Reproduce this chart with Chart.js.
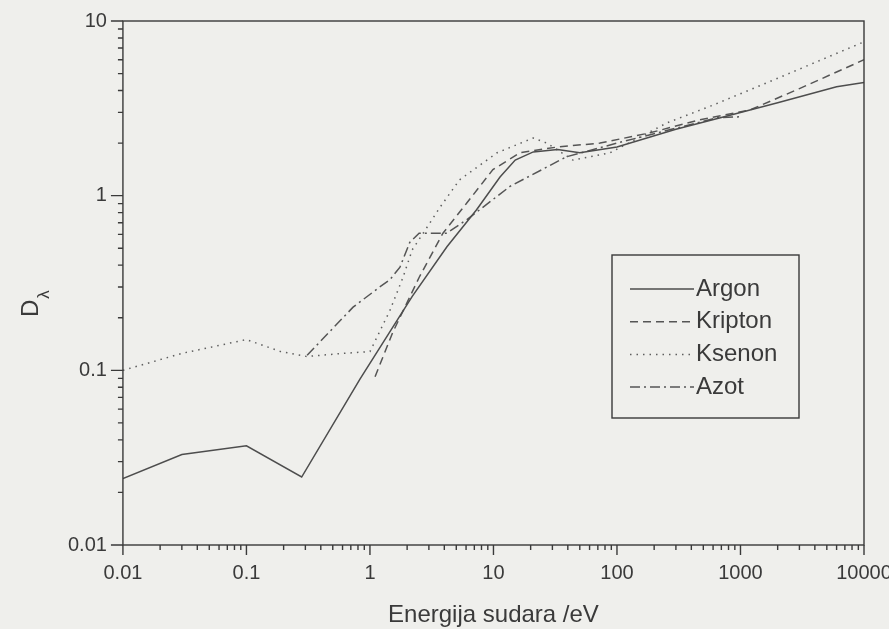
<!DOCTYPE html>
<html>
<head>
<meta charset="utf-8">
<script src="https://cdn.jsdelivr.net/npm/chart.js@4.4.1/dist/chart.umd.min.js"></script>
<style>
    html, body { margin: 0; padding: 0; background: #efefec; }
    #wrap { width: 889px; height: 629px; }
</style>
</head>
<body>
<div id="wrap"><canvas id="chart" width="889" height="629"></canvas></div>
<script>
// energies (eV) and D_lambda
const argonE = [0.01, 0.03, 0.1, 0.28, 0.83, 2.2, 4.2, 7.3, 11.3, 15, 21, 33, 50, 100, 300, 700, 2000, 6000, 10000];
const argonD = [0.024, 0.033, 0.037, 0.0245, 0.089, 0.265, 0.51, 0.83, 1.28, 1.6, 1.78, 1.84, 1.76, 1.9, 2.4, 2.8, 3.4, 4.2, 4.45];

const kriptonE = [1.1, 1.53, 2.5, 3.9, 6.1, 9.9, 16.4, 33, 73, 185, 470, 1200, 3000, 10000];
const kriptonD = [0.092, 0.165, 0.34, 0.61, 0.91, 1.41, 1.76, 1.9, 2.0, 2.29, 2.72, 3.1, 4.1, 6.0];

const ksenonE = [0.01, 0.03, 0.1, 0.19, 0.31, 0.6, 1.0, 1.45, 1.85, 2.2, 2.7, 3.7, 5.3, 10.7, 21, 27, 44, 88, 254, 600, 2000, 10000];
const ksenonD = [0.1, 0.125, 0.15, 0.128, 0.12, 0.125, 0.128, 0.22, 0.34, 0.49, 0.61, 0.86, 1.23, 1.76, 2.14, 2.0, 1.6, 1.76, 2.61, 3.3, 4.7, 7.6];

const azotE = [0.31, 0.73, 1.2, 1.45, 1.75, 2.1, 2.5, 4.2, 6.1, 13.6, 39, 100, 646, 990];
const azotD = [0.122, 0.23, 0.30, 0.33, 0.39, 0.54, 0.61, 0.61, 0.73, 1.13, 1.67, 2.0, 2.79, 2.83];

const xTickLabels = ['0.01', '0.1', '1', '10', '100', '1000', '10000'];
const yTickLabels = ['0.01', '0.1', '1', '10'];

const BG = '#efefec';
const INK = '#3a3a3a';
const LINE = '#555555';
const FONT = '"Liberation Sans", Arial, sans-serif';

const toPoints = (xs, ys) => xs.map((x, i) => ({ x: x, y: ys[i] }));

function isDecade(v) {
    const l = Math.log10(v);
    return Math.abs(l - Math.round(l)) < 1e-6;
}

// decade ticks plus 2..9 minor ticks
function logTicks(labels) {
    const decades = labels.map(Number);
    const out = [];
    decades.forEach((d, i) => {
        if (i === decades.length - 1) { out.push({ value: d }); return; }
        for (let m = 1; m <= 9; m++) out.push({ value: d * m });
    });
    return out;
}

function tickText(labels) {
    return v => {
        if (!isDecade(v)) return '';
        const hit = labels.find(l => Math.abs(Math.log10(Number(l)) - Math.log10(v)) < 1e-6);
        return hit || '';
    };
}

const frame = {
    id: 'frame',
    afterDraw(chart) {
        const { ctx, chartArea: a, scales } = chart;
        ctx.save();
        ctx.strokeStyle = INK;
        ctx.lineWidth = 1.4;
        ctx.strokeRect(a.left, a.top, a.right - a.left, a.bottom - a.top);
        ctx.beginPath();
        scales.x.ticks.forEach(t => {
            const px = scales.x.getPixelForValue(t.value);
            const len = isDecade(t.value) ? 10 : 5;
            ctx.moveTo(px, a.bottom);
            ctx.lineTo(px, a.bottom + len);
        });
        scales.y.ticks.forEach(t => {
            const py = scales.y.getPixelForValue(t.value);
            const len = isDecade(t.value) ? 12 : 5;
            ctx.moveTo(a.left, py);
            ctx.lineTo(a.left - len, py);
        });
        ctx.stroke();

        // y title: D with subscript lambda
        ctx.fillStyle = INK;
        ctx.translate(38, 317);
        ctx.rotate(-Math.PI / 2);
        ctx.textBaseline = 'alphabetic';
        ctx.font = '24px ' + FONT;
        ctx.fillText('D', 0, 0);
        const w = ctx.measureText('D').width;
        ctx.font = '17px ' + FONT;
        ctx.fillText('λ', w + 1, 11);
        ctx.restore();
    }
};

const boxLegend = {
    id: 'boxLegend',
    afterDraw(chart, args, opts) {
        const { ctx } = chart;
        ctx.save();
        ctx.strokeStyle = INK;
        ctx.lineWidth = 1.4;
        ctx.strokeRect(opts.x, opts.y, opts.w, opts.h);
        chart.data.datasets.forEach((ds, i) => {
            const y = opts.y + opts.first + i * opts.gap;
            ctx.setLineDash(ds.borderDash || []);
            ctx.strokeStyle = ds.borderColor;
            ctx.lineWidth = ds.borderWidth;
            ctx.beginPath();
            ctx.moveTo(opts.x + 18, y);
            ctx.lineTo(opts.x + 82, y);
            ctx.stroke();
            ctx.setLineDash([]);
            ctx.fillStyle = INK;
            ctx.font = '24px ' + FONT;
            ctx.textBaseline = 'middle';
            ctx.fillText(ds.label, opts.x + 84, y);
        });
        ctx.restore();
    }
};

const paper = {
    id: 'paper',
    beforeDraw(chart) {
        const { ctx, width, height } = chart;
        ctx.save();
        ctx.fillStyle = BG;
        ctx.fillRect(0, 0, width, height);
        ctx.restore();
    }
};

const lineStyle = { showLine: true, pointRadius: 0, borderColor: LINE, borderWidth: 1.5, tension: 0, fill: false };

new Chart(document.getElementById('chart'), {
    type: 'scatter',
    data: {
        datasets: [
            { ...lineStyle, label: 'Argon', data: toPoints(argonE, argonD), borderColor: '#4d4d4d' },
            { ...lineStyle, label: 'Kripton', data: toPoints(kriptonE, kriptonD), borderDash: [8, 5] },
            { ...lineStyle, label: 'Ksenon', data: toPoints(ksenonE, ksenonD), borderDash: [1.5, 5], borderColor: '#5e5e5e' },
            { ...lineStyle, label: 'Azot', data: toPoints(azotE, azotD), borderDash: [10, 4, 2, 4] }
        ]
    },
    options: {
        responsive: false,
        animation: false,
        devicePixelRatio: 1,
        layout: { padding: { left: 64, top: 21, right: 0, bottom: 2 } },
        plugins: {
            legend: { display: false },
            tooltip: { enabled: false },
            boxLegend: { x: 612, y: 255, w: 187, h: 163, first: 34, gap: 32.7 }
        },
        scales: {
            x: {
                type: 'logarithmic',
                min: 0.01,
                max: 10000,
                afterBuildTicks: s => { s.ticks = logTicks(xTickLabels); },
                afterFit: s => { s.paddingRight = 25; },
                grid: { display: false, drawTicks: true, tickLength: 12 },
                border: { display: false },
                ticks: {
                    autoSkip: false, maxRotation: 0, padding: 4,
                    color: INK, font: { family: FONT, size: 20 },
                    callback: tickText(xTickLabels)
                },
                title: {
                    display: true,
                    text: 'Energija sudara /eV',
                    color: INK,
                    font: { family: FONT, size: 24, lineHeight: 1 },
                    padding: { top: 14, bottom: 0 }
                }
            },
            y: {
                type: 'logarithmic',
                min: 0.01,
                max: 10,
                afterBuildTicks: s => { s.ticks = logTicks(yTickLabels); },
                grid: { display: false, drawTicks: true, tickLength: 12 },
                border: { display: false },
                ticks: {
                    autoSkip: false, padding: 4,
                    color: INK, font: { family: FONT, size: 20 },
                    callback: tickText(yTickLabels)
                }
            }
        }
    },
    plugins: [paper, frame, boxLegend]
});
</script>
</body>
</html>
